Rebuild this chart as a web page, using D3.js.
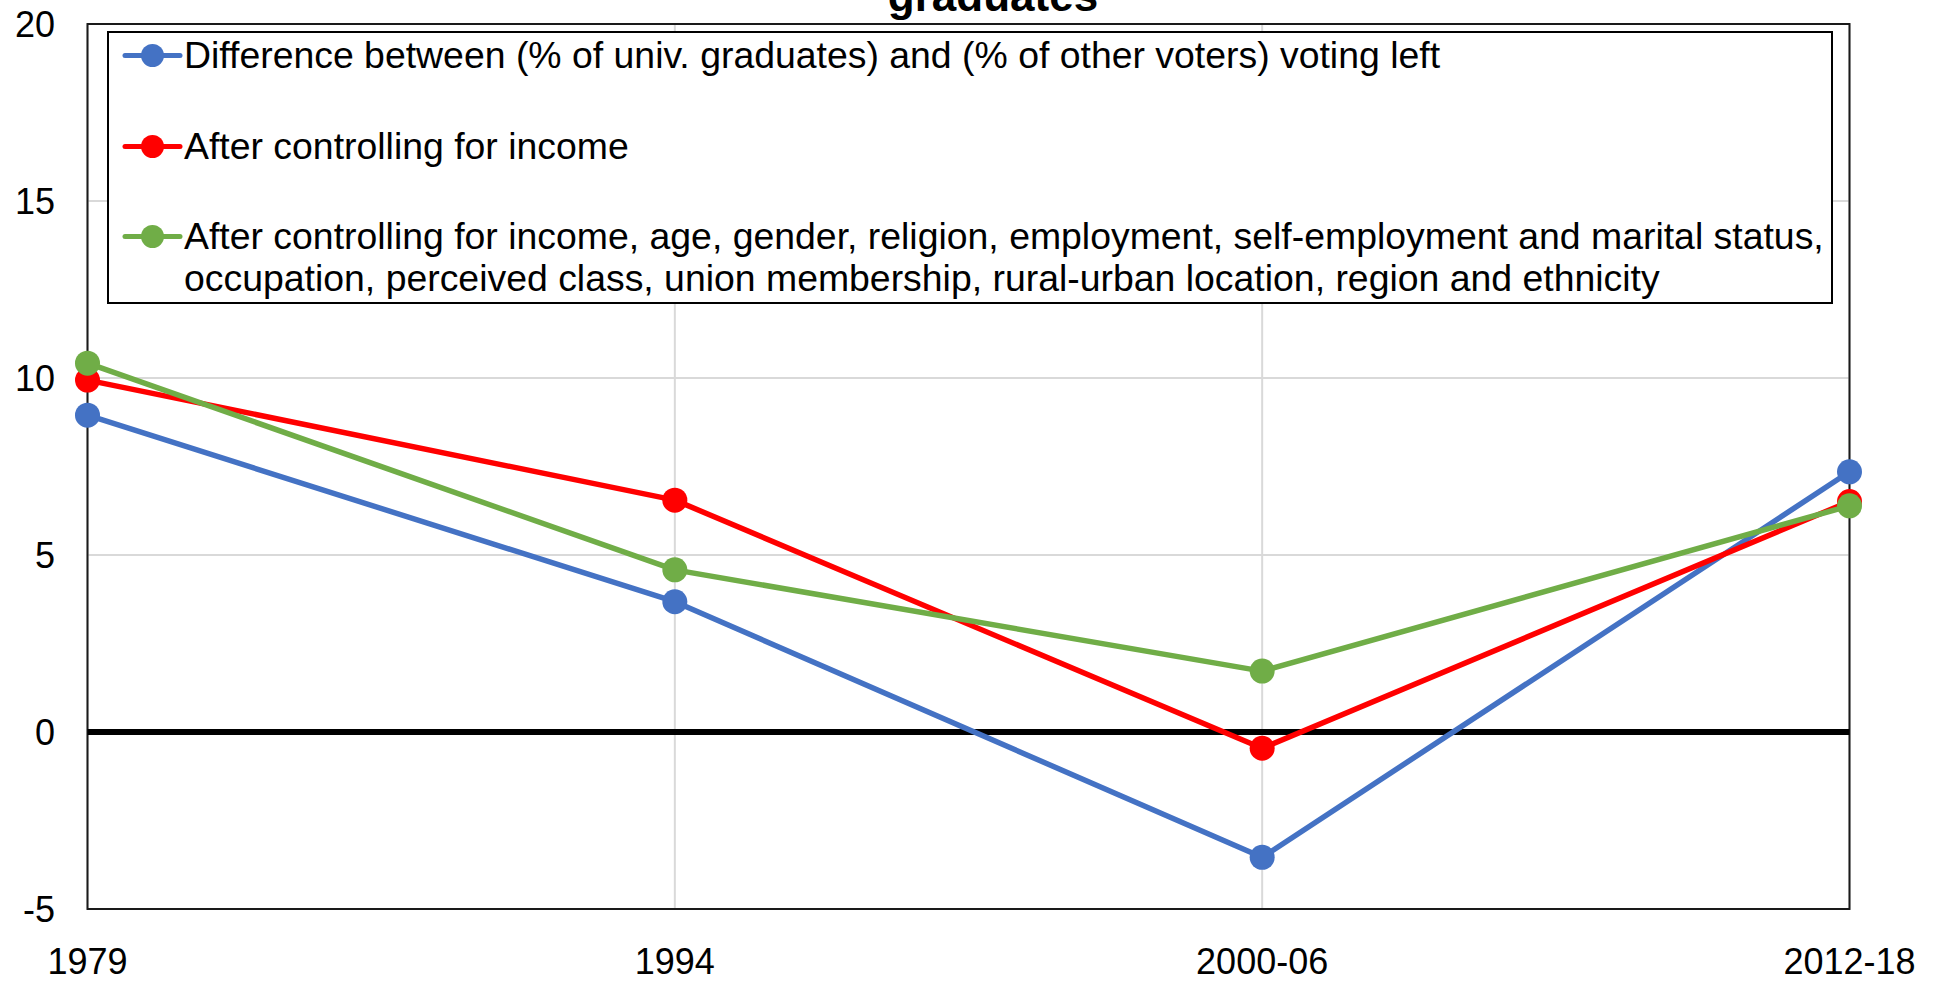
<!DOCTYPE html>
<html>
<script src='https://d3js.org/d3.v7.min.js'></script>
<style>
    body {
        margin: 0;
        background: white;
    }

    text {
        font-family: 'Liberation Sans', Arial, sans-serif;
        fill: black;
    }

    .grid line {
        stroke: #d9d9d9;
        stroke-width: 2;
    }
</style>

<body onload='init()'>
    <svg width=1939 height=981></svg>
    <script>
        const periods = ['1979', '1994', '2000-06', '2012-18'];
        const diffLeft = [8.95, 3.68, -3.54, 7.35];
        const afterIncome = [9.94, 6.55, -0.46, 6.51];
        const afterAll = [10.42, 4.58, 1.72, 6.39];
        const yTicks = [-5, 0, 5, 10, 15, 20];

        const seriesNames = [
            ['Difference between (% of univ. graduates) and (% of other voters) voting left'],
            ['After controlling for income'],
            ['After controlling for income, age, gender, religion, employment, self-employment and marital status,',
                'occupation, perceived class, union membership, rural-urban location, region and ethnicity']
        ];
        const colors = ['#4472C4', '#FF0000', '#70AD47'];

        function init() {
            const svg = d3.select('svg');

            var x = d3.scalePoint()
                .domain(periods)
                .range([87.5, 1849.5]);

            var y = d3.scaleLinear()
                .domain([-5, 20])
                .range([909, 24]);

            // title (only the end of it shows at the top)
            svg.append('text')
                .attr('x', 993)
                .attr('y', 11)
                .attr('text-anchor', 'middle')
                .style('font-weight', 'bold')
                .style('font-size', '44px')
                .text('graduates');

            // gridlines
            svg.append('g').attr('class', 'grid')
                .selectAll('line.h')
                .data(yTicks)
                .enter()
                .append('line')
                .attr('x1', x.range()[0]).attr('x2', x.range()[1])
                .attr('y1', d => y(d)).attr('y2', d => y(d));

            svg.append('g').attr('class', 'grid')
                .selectAll('line.v')
                .data(periods)
                .enter()
                .append('line')
                .attr('x1', d => x(d)).attr('x2', d => x(d))
                .attr('y1', y(20)).attr('y2', y(-5));

            // plot border
            svg.append('rect')
                .attr('x', x.range()[0])
                .attr('y', y(20))
                .attr('width', x.range()[1] - x.range()[0])
                .attr('height', y(-5) - y(20))
                .attr('fill', 'none')
                .attr('stroke', '#1a1a1a')
                .attr('stroke-width', 2);

            // zero line
            svg.append('line')
                .attr('x1', x.range()[0]).attr('x2', x.range()[1])
                .attr('y1', y(0)).attr('y2', y(0))
                .attr('stroke', 'black')
                .attr('stroke-width', 6);

            // y axis labels
            svg.append('g')
                .selectAll('text')
                .data(yTicks)
                .enter()
                .append('text')
                .attr('x', 55)
                .attr('y', d => y(d) + 13)
                .attr('text-anchor', 'end')
                .style('font-size', '36px')
                .text(d => d);

            // x axis labels
            svg.append('g')
                .selectAll('text')
                .data(periods)
                .enter()
                .append('text')
                .attr('x', d => x(d))
                .attr('y', 974)
                .attr('text-anchor', 'middle')
                .style('font-size', '36px')
                .text(d => d);

            // series
            const allSeries = [diffLeft, afterIncome, afterAll];
            var line = d3.line()
                .x((d, i) => x(periods[i]))
                .y(d => y(d));

            allSeries.forEach(function (vals, s) {
                var g = svg.append('g');
                g.append('path')
                    .datum(vals)
                    .attr('d', line)
                    .attr('fill', 'none')
                    .attr('stroke', colors[s])
                    .attr('stroke-width', 5.5)
                    .attr('stroke-linejoin', 'round');
                g.selectAll('circle')
                    .data(vals)
                    .enter()
                    .append('circle')
                    .attr('cx', (d, i) => x(periods[i]))
                    .attr('cy', d => y(d))
                    .attr('r', 12.5)
                    .attr('fill', colors[s]);
            });

            // legend
            var legend = svg.append('g');
            legend.append('rect')
                .attr('x', 108)
                .attr('y', 32)
                .attr('width', 1724)
                .attr('height', 271)
                .attr('fill', 'white')
                .attr('stroke', 'black')
                .attr('stroke-width', 2);

            const entryY = [55.5, 146.5, 236.5];
            seriesNames.forEach(function (lines, s) {
                legend.append('line')
                    .attr('x1', 125).attr('x2', 180)
                    .attr('y1', entryY[s]).attr('y2', entryY[s])
                    .attr('stroke', colors[s])
                    .attr('stroke-width', 5)
                    .attr('stroke-linecap', 'round');
                legend.append('circle')
                    .attr('cx', 152.5)
                    .attr('cy', entryY[s])
                    .attr('r', 11.5)
                    .attr('fill', colors[s]);
                lines.forEach(function (t, k) {
                    legend.append('text')
                        .attr('x', 184)
                        .attr('y', entryY[s] + 12.5 + k * 42)
                        .style('font-size', '37.4px')
                        .text(t);
                });
            });
        }
    </script>
</body>

</html>
